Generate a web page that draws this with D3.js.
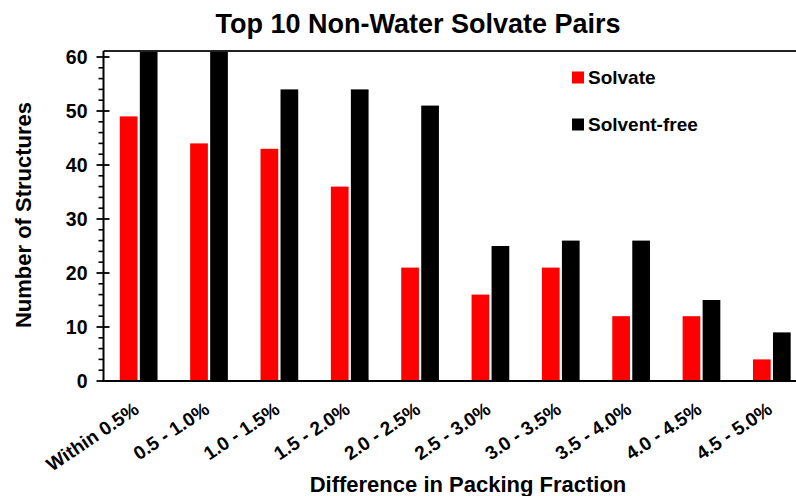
<!DOCTYPE html>
<html><head><meta charset="utf-8">
<script src="https://cdn.jsdelivr.net/npm/d3@7"></script>
<style>body{margin:0;background:#fff}svg{display:block}text{font-family:Arial,"Liberation Sans",sans-serif;font-weight:bold;fill:#000}</style>
</head><body>
<script>
const categories = ["Within 0.5%","0.5 - 1.0%","1.0 - 1.5%","1.5 - 2.0%","2.0 - 2.5%","2.5 - 3.0%","3.0 - 3.5%","3.5 - 4.0%","4.0 - 4.5%","4.5 - 5.0%"];
const seriesNames = ["Solvate","Solvent-free"];
const solvate = [49,44,43,36,21,16,21,12,12,4];
const solventFree = [62,62,54,54,51,25,26,26,15,9];
const seriesColors = ["#ff0000","#000000"];
const yTicks = [0,10,20,30,40,50,60];
const title = "Top 10 Non-Water Solvate Pairs";
const xTitle = "Difference in Packing Fraction";
const yTitle = "Number of Structures";

(function(){
const W = 796, H = 496;
const pL = 103.5, pR = 807, pT = 51, pB = 381;
const svg = d3.select("body").append("svg").attr("width",W).attr("height",H);

const x0 = d3.scaleBand().domain(categories).range([pL,pR]).paddingInner(0.464).paddingOuter(0.232);
const x1 = d3.scaleBand().domain(seriesNames).range([0,x0.bandwidth()]).paddingInner(0.115);
const y = d3.scaleLinear().domain([0,60]).range([pB,57]);

svg.append("clipPath").attr("id","plot").append("rect")
  .attr("x",pL).attr("y",pT).attr("width",pR-pL).attr("height",pB-pT);

const data = categories.map((c,i)=>({cat:c, vals:[solvate[i],solventFree[i]]}));
const g = svg.append("g").attr("clip-path","url(#plot)");
g.selectAll("g.cat").data(data).join("g").attr("class","cat")
  .attr("transform",d=>`translate(${x0(d.cat)},0)`)
  .selectAll("rect").data(d=>d.vals.map((v,j)=>({s:seriesNames[j],v,j})))
  .join("rect")
  .attr("x",d=>x1(d.s)).attr("width",x1.bandwidth())
  .attr("y",d=>y(d.v)).attr("height",d=>pB-y(d.v))
  .attr("fill",d=>seriesColors[d.j]);

svg.append("line").attr("x1",pL).attr("x2",W).attr("y1",pT).attr("y2",pT)
  .attr("stroke","#222").attr("stroke-width",2);

const minor = d3.range(0,61,2).filter(v=>v%10!==0);
svg.selectAll("line.minor").data(minor).join("line").attr("class","minor")
  .attr("x1",pL-5).attr("x2",pL).attr("y1",d=>y(d)).attr("y2",d=>y(d))
  .attr("stroke","#000").attr("stroke-width",1.6);
const yAxis = d3.axisLeft(y).tickValues(yTicks).tickSize(0).tickPadding(0);
const ya = svg.append("g").attr("transform",`translate(${pL},0)`).call(yAxis);
ya.select(".domain").remove();
ya.selectAll(".tick line").remove();
ya.selectAll(".tick text").attr("x",-16).attr("font-size",19.5).attr("font-family",null).attr("fill","#000");
svg.selectAll("line.major").data(yTicks).join("line").attr("class","major")
  .attr("x1",pL-7).attr("x2",pL+6).attr("y1",d=>y(d)).attr("y2",d=>y(d))
  .attr("stroke","#000").attr("stroke-width",1.8);
svg.append("line").attr("x1",pL).attr("x2",pL).attr("y1",pT).attr("y2",pB+1)
  .attr("stroke","#000").attr("stroke-width",2);

const xAxis = d3.axisBottom(x0).tickSize(0).tickFormat("");
const xa = svg.append("g").attr("transform",`translate(0,${pB})`).call(xAxis);
xa.select(".domain").remove();
svg.append("line").attr("x1",pL-1).attr("x2",W).attr("y1",pB).attr("y2",pB)
  .attr("stroke","#000").attr("stroke-width",2);
svg.selectAll("text.xlab").data(categories).join("text").attr("class","xlab")
  .attr("text-anchor","end").attr("font-size",19).attr("dy","0.72em")
  .attr("transform",d=>`translate(${x0(d)+x0.bandwidth()/2-6},${401}) rotate(-34)`)
  .text(d=>d);

svg.append("text").attr("x",418).attr("y",33).attr("text-anchor","middle").attr("font-size",27).text(title);
svg.append("text").attr("x",468).attr("y",492).attr("text-anchor","middle").attr("font-size",22).text(xTitle);
svg.append("text").attr("transform","translate(31,215) rotate(-90)").attr("text-anchor","middle").attr("font-size",22).text(yTitle);

const leg = svg.append("g");
const legY = [71.5,118.5];
seriesNames.forEach((s,i)=>{
  leg.append("rect").attr("x",572).attr("y",legY[i]).attr("width",12).attr("height",12).attr("fill",seriesColors[i]);
  leg.append("text").attr("x",588).attr("y",legY[i]+12).attr("font-size",19).text(s);
});
})();
</script>
</body></html>
